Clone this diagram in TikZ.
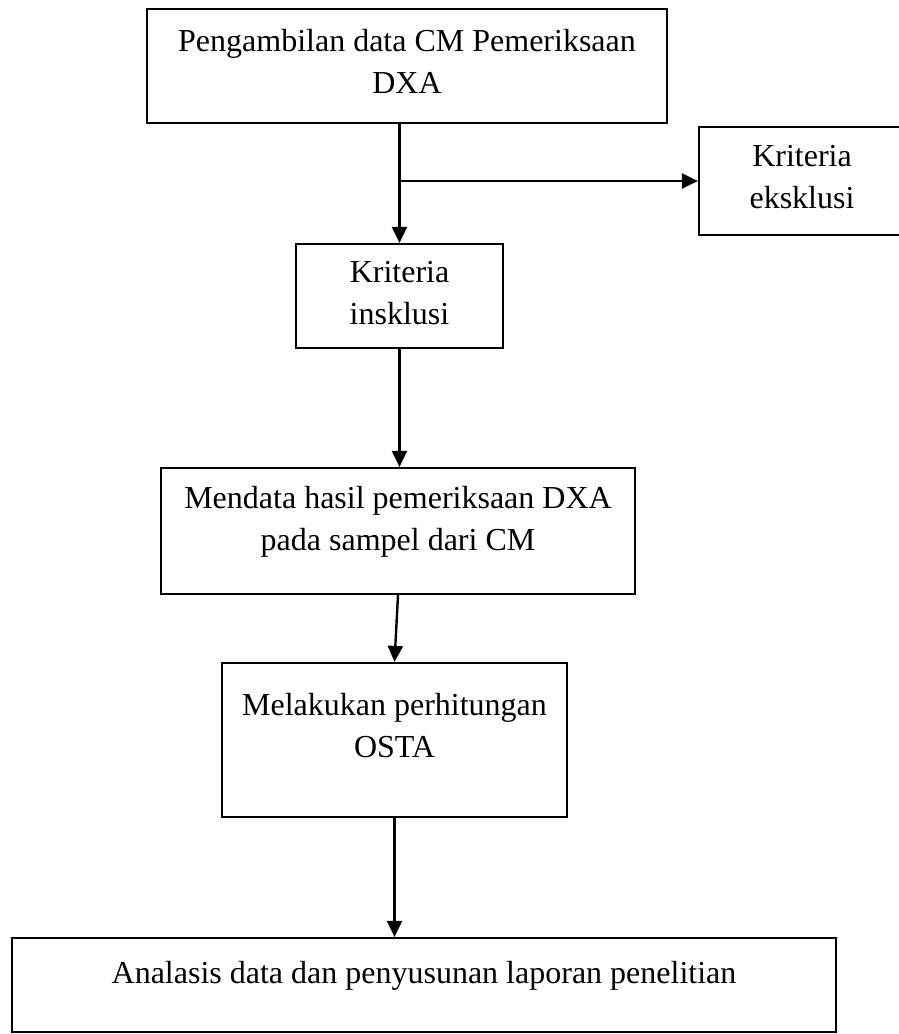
\documentclass[tikz,border=0pt]{standalone}
\usepackage{fontspec}
\setmainfont{Liberation Serif}
\usetikzlibrary{arrows.meta}
\usetikzlibrary{calc}

\tikzset{
    kotak/.style={draw, line width=1.1pt, inner sep=0pt},
    teks/.style={align=center, inner sep=0pt, anchor=north, font=\fontsize{16}{21}\selectfont},
    panah/.style={line width=1.2pt, -{Triangle[length=8pt, width=7.5pt]}}
}

\begin{document}
\begin{tikzpicture}[x=0.5pt, y=-0.5pt]
        \clip (0,0) rectangle (899,1034);
        % boxes
        \node[kotak, minimum width=260pt, minimum height=57pt] (pengambilan) at (407,66) {};
        \node[kotak, minimum width=103pt, minimum height=54pt] (eksklusi) at (802,181) {};
        \node[kotak, minimum width=103.5pt, minimum height=52pt] (inklusi) at (399.5,296) {};
        \node[kotak, minimum width=237pt, minimum height=63pt] (mendata) at (398,531) {};
        \node[kotak, minimum width=172.5pt, minimum height=77pt] (melakukan) at (394.5,740) {};
        \node[kotak, minimum width=412pt, minimum height=47pt] (analisis) at (424,985) {};
        % texts
        \node[teks] (pengambilan-teks) at (407,29) {Pengambilan data CM Pemeriksaan\\DXA};
        \node[teks] (eksklusi-teks) at (802,145) {Kriteria\\eksklusi};
        \node[teks] (inklusi-teks) at (399.5,261) {Kriteria\\insklusi};
        \node[teks] (mendata-teks) at (398,486) {Mendata hasil pemeriksaan DXA\\pada sampel dari CM};
        \node[teks] (melakukan-teks) at (394.5,693) {Melakukan perhitungan\\OSTA};
        \node[teks] (analisis-teks) at (424,961) {Analasis data dan penyusunan laporan penelitian};
        % ~~~~~~~~~~~~~~~~~
        \draw[panah] (inklusi.north |- pengambilan.south) -- (inklusi.north);
        \draw[panah] (inklusi.north |- eksklusi.west) -- (eksklusi.west);
        \draw[panah] (inklusi.south) -- (inklusi.south |- mendata.north);
        \draw[panah] (mendata.south) -- (melakukan.north);
        \draw[panah] (melakukan.south) -- (melakukan.south |- analisis.north);
\end{tikzpicture}
\end{document}
